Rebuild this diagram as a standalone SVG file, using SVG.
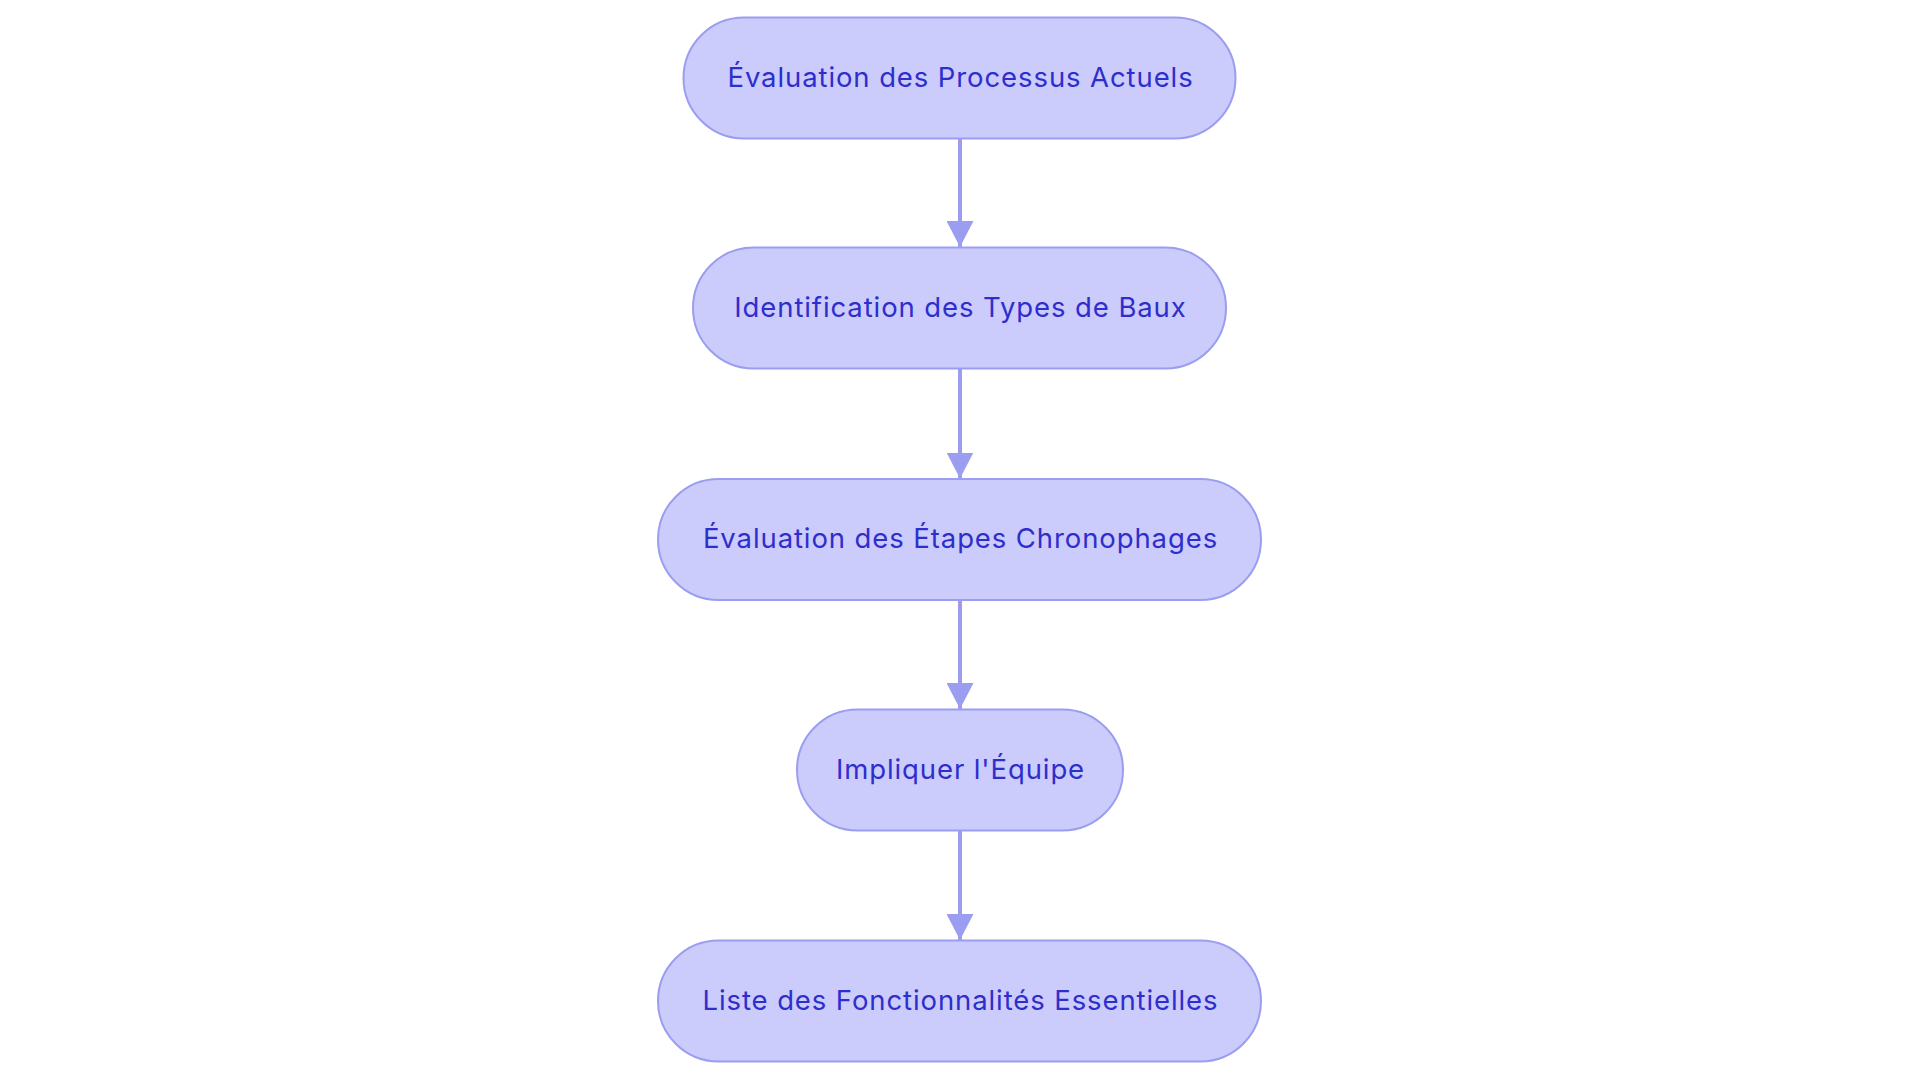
<svg xmlns="http://www.w3.org/2000/svg" width="1920" height="1083" viewBox="0 0 1920 1083">
<defs>
<style>
.node rect{fill:#CBCBFC;stroke:#9B9EF0;stroke-width:2}
.node text{font-family:Inter,"Noto Sans","Liberation Sans",sans-serif;font-size:27.5px;letter-spacing:0.9px;fill:#2E2ECC;text-anchor:middle}
.edge{stroke:#9B9EF0;stroke-width:4;fill:none}
.head{fill:#9B9EF0}
</style>
<marker id="arrow" viewBox="0 0 26 27" refX="26" refY="13.5" markerWidth="26" markerHeight="27" markerUnits="userSpaceOnUse" orient="auto">
<path class="head" d="M0,0 L26,13.5 L0,27 Z"/>
</marker>
</defs>
<rect width="1920" height="1083" fill="#FFFFFF"/>
<g id="connectors">
<line class="edge" x1="960" y1="138.5" x2="960" y2="247" marker-end="url(#arrow)"/>
<line class="edge" x1="960" y1="368.5" x2="960" y2="478.5" marker-end="url(#arrow)"/>
<line class="edge" x1="960" y1="600" x2="960" y2="709" marker-end="url(#arrow)"/>
<line class="edge" x1="960" y1="830.5" x2="960" y2="940" marker-end="url(#arrow)"/>
</g>
<g id="node1" class="node">
<rect x="683.5" y="17.5" width="552" height="121" rx="60.5" ry="60.5"/>
<text x="960.5" y="86.5">Évaluation des Processus Actuels</text>
</g>
<g id="node2" class="node">
<rect x="693" y="247.5" width="533" height="121" rx="60.5" ry="60.5"/>
<text x="960.5" y="316.5">Identification des Types de Baux</text>
</g>
<g id="node3" class="node">
<rect x="658" y="479" width="603" height="121" rx="60.5" ry="60.5"/>
<text x="960.5" y="548">Évaluation des Étapes Chronophages</text>
</g>
<g id="node4" class="node">
<rect x="797" y="709.5" width="326" height="121" rx="60.5" ry="60.5"/>
<text x="960.5" y="778.5">Impliquer l'Équipe</text>
</g>
<g id="node5" class="node">
<rect x="658" y="940.5" width="603" height="121" rx="60.5" ry="60.5"/>
<text x="960.5" y="1009.5">Liste des Fonctionnalités Essentielles</text>
</g>
</svg>
